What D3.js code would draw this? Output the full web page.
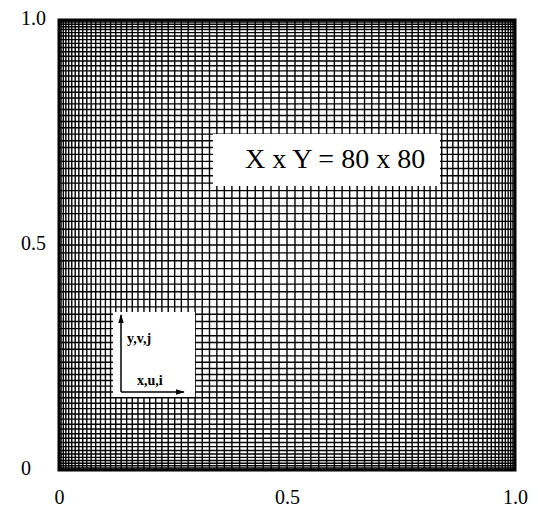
<!DOCTYPE html>
<html>
<head>
<meta charset="utf-8">
<script src="https://cdn.jsdelivr.net/npm/d3@7"></script>
<style>
  body { margin: 0; background: #fff; }
  text { font-family: "Liberation Serif", "DejaVu Serif", serif; fill: #000; }
</style>
</head>
<body>
<script>
// grid line positions (same in x and y), clustered toward the walls
const gridLines = [
  0, 0.0045, 0.0095, 0.0150, 0.0212, 0.0280, 0.0355, 0.0435, 0.0520, 0.0610,
  0.0705, 0.0805, 0.0910, 0.1018, 0.1130, 0.1245, 0.1363, 0.1484, 0.1607, 0.1732,
  0.1863, 0.1990, 0.2121, 0.2256, 0.2395, 0.2537, 0.2683, 0.2832, 0.2985, 0.3141,
  0.3300, 0.3462, 0.3626, 0.3792, 0.3961, 0.4131, 0.4303, 0.4476, 0.4650, 0.4825,
  0.5, 0.5175, 0.5350, 0.5524, 0.5697, 0.5869, 0.6039, 0.6208, 0.6374, 0.6538,
  0.6700, 0.6859, 0.7015, 0.7168, 0.7317, 0.7463, 0.7605, 0.7744, 0.7879, 0.8010,
  0.8137, 0.8268, 0.8393, 0.8516, 0.8637, 0.8755, 0.8870, 0.8982, 0.9090, 0.9195,
  0.9295, 0.9390, 0.9480, 0.9565, 0.9645, 0.9720, 0.9788, 0.9850, 0.9905, 0.9955, 1
];
const tickValues = [0, 0.5, 1];
const xTickLabels = ["0", "0.5", "1.0"];
const yTickLabels = ["0", "0.5", "1.0"];
const gridTitle = "X x Y = 80 x 80";
const axisLabels = ["y,v,j", "x,u,i"];

const width = 538;
const height = 513;
const margin = { left: 59, right: 23, top: 20, bottom: 43 };

const svg = d3.select('body').append('svg')
    .attr('width', width)
    .attr('height', height);

const x = d3.scaleLinear().domain([0, 1]).range([margin.left, width - margin.right]);
const y = d3.scaleLinear().domain([0, 1]).range([height - margin.bottom, margin.top]);

// mesh
const mesh = svg.append('g').attr('stroke', '#000').attr('stroke-width', 1.4);
mesh.selectAll('line.v')
    .data(gridLines)
    .enter().append('line')
    .attr('class', 'v')
    .attr('x1', d => x(d)).attr('x2', d => x(d))
    .attr('y1', y(0)).attr('y2', y(1));
mesh.selectAll('line.h')
    .data(gridLines)
    .enter().append('line')
    .attr('class', 'h')
    .attr('y1', d => y(d)).attr('y2', d => y(d))
    .attr('x1', x(0)).attr('x2', x(1));

// frame
svg.append('rect')
    .attr('x', x(0)).attr('y', y(1))
    .attr('width', x(1) - x(0)).attr('height', y(0) - y(1))
    .attr('fill', 'none').attr('stroke', '#000').attr('stroke-width', 3);

// axes (labels only)
const xAxis = svg.append('g')
    .attr('transform', `translate(0,${y(0)})`)
    .call(d3.axisBottom(x).tickValues(tickValues).tickSize(0)
        .tickFormat((d, i) => xTickLabels[i]));
xAxis.select('.domain').remove();
xAxis.selectAll('text')
    .attr('y', 34).attr('dy', 0)
    .style('font-family', '"Liberation Serif", serif')
    .style('font-size', '20px');

const yAxis = svg.append('g')
    .call(d3.axisLeft(y).tickValues(tickValues).tickSize(0)
        .tickFormat((d, i) => yTickLabels[i]));
yAxis.select('.domain').remove();
yAxis.selectAll('text')
    .attr('x', 21).attr('dy', '0.2em')
    .attr('text-anchor', 'start')
    .style('font-family', '"Liberation Serif", serif')
    .style('font-size', '20px');

// title box
svg.append('rect')
    .attr('x', 213).attr('y', 134)
    .attr('width', 227).attr('height', 52)
    .attr('fill', '#fff');
svg.append('text')
    .attr('x', 245).attr('y', 168)
    .style('font-size', '28px')
    .text(gridTitle);

// coordinate inset
svg.append('rect')
    .attr('x', 113).attr('y', 312)
    .attr('width', 82).attr('height', 85)
    .attr('fill', '#fff');

const defs = svg.append('defs');
defs.append('marker')
    .attr('id', 'arrow')
    .attr('viewBox', '0 0 10 10')
    .attr('refX', 9).attr('refY', 5)
    .attr('markerWidth', 6).attr('markerHeight', 6)
    .attr('orient', 'auto')
    .append('path')
    .attr('d', 'M0,2 L10,5 L0,8 Z')
    .attr('fill', '#000');

svg.append('line')
    .attr('x1', 121).attr('y1', 392).attr('x2', 121).attr('y2', 315)
    .attr('stroke', '#000').attr('stroke-width', 1.5)
    .attr('marker-end', 'url(#arrow)');
svg.append('line')
    .attr('x1', 121).attr('y1', 392).attr('x2', 184).attr('y2', 392)
    .attr('stroke', '#000').attr('stroke-width', 1.5)
    .attr('marker-end', 'url(#arrow)');

svg.append('text')
    .attr('x', 127).attr('y', 343)
    .style('font-size', '14px').style('font-weight', 'bold')
    .text(axisLabels[0]);
svg.append('text')
    .attr('x', 137).attr('y', 385)
    .style('font-size', '14px').style('font-weight', 'bold')
    .text(axisLabels[1]);
</script>
</body>
</html>
